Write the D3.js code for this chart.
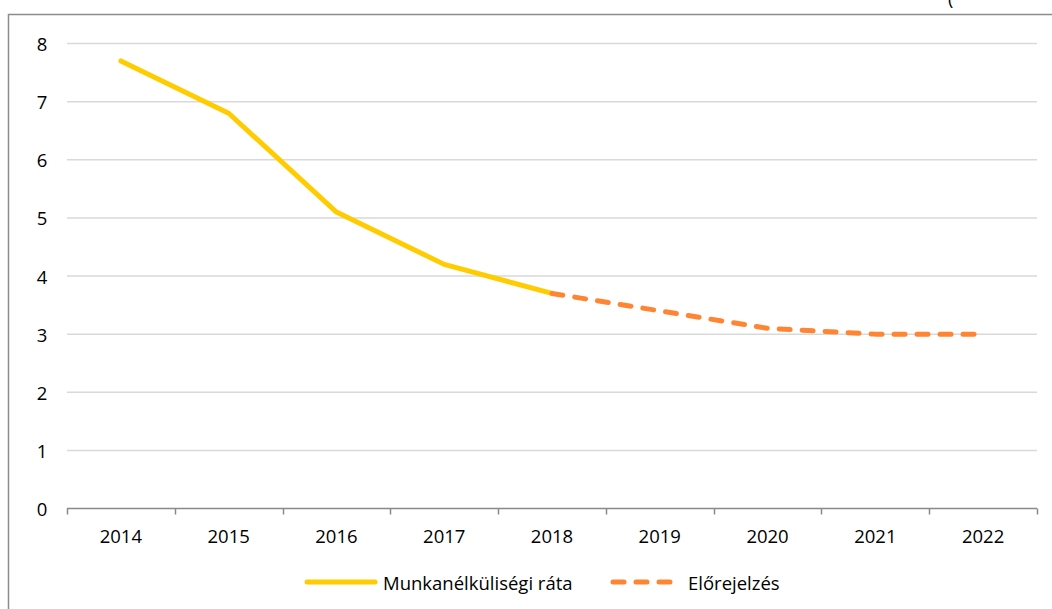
<!DOCTYPE html>
<html>
<head>
<meta charset="utf-8">
<script src="https://cdn.jsdelivr.net/npm/d3@7"></script>
<style>
  body { margin: 0; background: #fff; }
  svg { display: block; font-family: "Open Sans", Lato, sans-serif; }
</style>
</head>
<body>
<svg id="chart" width="1052" height="609"></svg>
<script>
const years = ["2014", "2015", "2016", "2017", "2018", "2019", "2020", "2021", "2022"];
const actualYears = ["2014", "2015", "2016", "2017", "2018"];
const actualValues = [7.7, 6.8, 5.1, 4.2, 3.7];
const forecastYears = ["2018", "2019", "2020", "2021", "2022"];
const forecastValues = [3.7, 3.4, 3.1, 3.0, 3.0];
const yTicks = [0, 1, 2, 3, 4, 5, 6, 7, 8];
const seriesNames = ["Munkanélküliségi ráta", "Előrejelzés"];

const YELLOW = "#ffcc00";
const ORANGE = "#ff8533";
const FS = 18.5;

const svg = d3.select("#chart");

// outer frame, cut off at right and bottom like the source
svg.append("path")
  .attr("d", "M8.5,609 V14.5 H1052")
  .attr("fill", "none")
  .attr("stroke", "#8c8c8c")
  .attr("stroke-width", 1.5);

// stray glyph from text above the frame
svg.append("text")
  .attr("x", 948).attr("y", 5)
  .attr("font-size", 18)
  .attr("fill", "#000")
  .text("(");

const x = d3.scaleBand().domain(years).range([67, 1037]);
const y = d3.scaleLinear().domain([0, 8]).range([508.5, 43.5]);

// gridlines
svg.append("g")
  .selectAll("line")
  .data(yTicks.filter(d => d > 0))
  .enter()
  .append("line")
  .attr("x1", 67).attr("x2", 1037)
  .attr("y1", d => y(d)).attr("y2", d => y(d))
  .attr("stroke", "#d9d9d9")
  .attr("stroke-width", 1.5);

// y labels
svg.append("g")
  .selectAll("text")
  .data(yTicks)
  .enter()
  .append("text")
  .attr("x", 42)
  .attr("y", d => y(d))
  .attr("text-anchor", "middle")
  .attr("dominant-baseline", "central")
  .attr("font-size", FS)
  .attr("fill", "#000")
  .text(d => d);

// x axis
const xAxis = svg.append("g")
  .attr("transform", `translate(0,${y(0)})`);
xAxis.append("line")
  .attr("x1", 67).attr("x2", 1037)
  .attr("stroke", "#898989")
  .attr("stroke-width", 1.5);
const bounds = years.map(d => x(d)).concat([x(years[years.length - 1]) + x.bandwidth()]);
xAxis.selectAll(".tick")
  .data(bounds)
  .enter()
  .append("line")
  .attr("x1", d => Math.round(d) + 0.5).attr("x2", d => Math.round(d) + 0.5)
  .attr("y1", 0).attr("y2", 6)
  .attr("stroke", "#898989")
  .attr("stroke-width", 1.5);
xAxis.selectAll("text")
  .data(years)
  .enter()
  .append("text")
  .attr("x", d => x(d) + x.bandwidth() / 2)
  .attr("y", 27)
  .attr("text-anchor", "middle")
  .attr("dominant-baseline", "central")
  .attr("font-size", FS)
  .attr("fill", "#000")
  .text(d => d);

const line = d3.line()
  .x(d => x(d[0]) + x.bandwidth() / 2)
  .y(d => y(d[1]));

svg.append("path")
  .datum(d3.zip(actualYears, actualValues))
  .attr("d", line)
  .attr("fill", "none")
  .attr("stroke", YELLOW)
  .attr("stroke-width", 5)
  .attr("stroke-linejoin", "round")
  .attr("stroke-linecap", "round");

svg.append("path")
  .datum(d3.zip(forecastYears, forecastValues))
  .attr("d", line)
  .attr("fill", "none")
  .attr("stroke", ORANGE)
  .attr("stroke-width", 5)
  .attr("stroke-dasharray", "11,12")
  .attr("stroke-linejoin", "round")
  .attr("stroke-linecap", "round");

// legend
const legend = svg.append("g").attr("transform", "translate(0,582)");
legend.append("line")
  .attr("x1", 307).attr("x2", 375)
  .attr("stroke", YELLOW)
  .attr("stroke-width", 5)
  .attr("stroke-linecap", "round");
legend.append("text")
  .attr("x", 383).attr("y", 0)
  .attr("dominant-baseline", "central")
  .attr("font-size", FS)
  .attr("fill", "#000")
  .text(seriesNames[0]);
legend.append("line")
  .attr("x1", 613).attr("x2", 672)
  .attr("stroke", ORANGE)
  .attr("stroke-width", 5)
  .attr("stroke-dasharray", "11,12")
  .attr("stroke-linecap", "round");
legend.append("text")
  .attr("x", 688).attr("y", 0)
  .attr("dominant-baseline", "central")
  .attr("font-size", FS)
  .attr("fill", "#000")
  .text(seriesNames[1]);
</script>
</body>
</html>
